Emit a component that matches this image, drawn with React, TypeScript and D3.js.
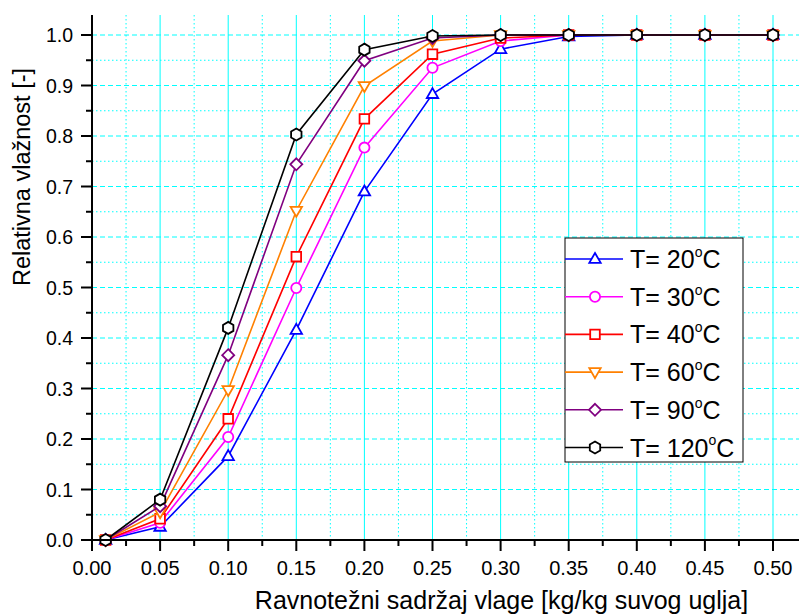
import React, { useEffect } from "react";
import * as d3 from "d3";

const xValues = [0.01, 0.05, 0.1, 0.15, 0.2, 0.25, 0.3, 0.35, 0.4, 0.45, 0.5];
const t20 = [0.0, 0.026, 0.166, 0.416, 0.69, 0.883, 0.972, 0.997, 1.0, 1.0, 1.0];
const t30 = [0.0, 0.034, 0.204, 0.499, 0.777, 0.935, 0.988, 1.0, 1.0, 1.0, 1.0];
const t40 = [0.0, 0.042, 0.24, 0.561, 0.834, 0.962, 0.994, 1.0, 1.0, 1.0, 1.0];
const t60 = [0.0, 0.055, 0.297, 0.652, 0.899, 0.988, 1.0, 1.0, 1.0, 1.0, 1.0];
const t90 = [0.0, 0.067, 0.366, 0.744, 0.949, 0.994, 1.0, 1.0, 1.0, 1.0, 1.0];
const t120 = [0.0, 0.08, 0.42, 0.803, 0.971, 0.998, 1.0, 1.0, 1.0, 1.0, 1.0];
const seriesLabels = ["20", "30", "40", "60", "90", "120"];
const xTicks = [0, 0.05, 0.1, 0.15, 0.2, 0.25, 0.3, 0.35, 0.4, 0.45, 0.5];
const yTicks = [0, 0.1, 0.2, 0.3, 0.4, 0.5, 0.6, 0.7, 0.8, 0.9, 1.0];

const colors = ["#0000ff", "#ff00ff", "#ff0000", "#ff8000", "#800080", "#000000"];
const shapes = ["tri", "circle", "square", "triDown", "diamond", "hex"];
const seriesData = [t20, t30, t40, t60, t90, t120];

function markerPath(shape: string, r: number): string {
  switch (shape) {
    case "tri":
      return `M0,${-r}L${r * 0.95},${r * 0.65}L${-r * 0.95},${r * 0.65}Z`;
    case "triDown":
      return `M0,${r}L${r * 0.95},${-r * 0.65}L${-r * 0.95},${-r * 0.65}Z`;
    case "square":
      return `M${-r * 0.8},${-r * 0.8}H${r * 0.8}V${r * 0.8}H${-r * 0.8}Z`;
    case "diamond":
      return `M0,${-r}L${r},0L0,${r}L${-r},0Z`;
    case "hex": {
      const pts = d3.range(6).map((i) => {
        const a = (Math.PI / 3) * i - Math.PI / 2;
        return [r * Math.cos(a), r * Math.sin(a)];
      });
      return "M" + pts.map((p) => p.join(",")).join("L") + "Z";
    }
    default: {
      return `M${r * 0.85},0A${r * 0.85},${r * 0.85} 0 1,1 ${-r * 0.85},0A${r * 0.85},${r * 0.85} 0 1,1 ${r * 0.85},0Z`;
    }
  }
}

export default function App() {
  useEffect(() => {
    document.body.style.margin = "0";
  }, []);
  const W = 799;
  const H = 615;
  const x = d3.scaleLinear().domain([0, 0.5]).range([92, 773]);
  const y = d3.scaleLinear().domain([0, 1]).range([540, 35]);
  const xMinor = d3.range(0, 0.526, 0.025);
  const yMinor = d3.range(0, 1.04, 0.05);
  const line = d3
    .line<number>()
    .x((_, i) => x(xValues[i]))
    .y((d) => y(d));
  const grid = "#00ffff";
  const font = "'Liberation Sans', Arial, sans-serif";
  const legX = 565;
  const legY = 238;
  const legRowH = 37.7;

  return (
    <svg width={W} height={H} style={{ display: "block", background: "#fff" }} fontFamily={font}>
      {xMinor
        .filter((v) => Math.abs(Math.round(v / 0.05) * 0.05 - v) > 1e-6)
        .map((v, i) => (
          <line key={"xm" + i} x1={x(v)} x2={x(v)} y1={15} y2={540} stroke={grid} strokeWidth={1} strokeDasharray="1.5,2.5" />
        ))}
      {xTicks.slice(1).map((v, i) => (
        <line key={"xg" + i} x1={x(v)} x2={x(v)} y1={15} y2={540} stroke={grid} strokeWidth={1} />
      ))}
      {yMinor
        .filter((v) => Math.abs(Math.round(v / 0.1) * 0.1 - v) > 1e-6)
        .map((v, i) => (
          <line key={"ym" + i} x1={92} x2={W} y1={y(v)} y2={y(v)} stroke={grid} strokeWidth={1} strokeDasharray="1.5,2.5" />
        ))}
      {yTicks.slice(1).map((v, i) => (
        <line key={"yg" + i} x1={92} x2={W} y1={y(v)} y2={y(v)} stroke={grid} strokeWidth={1} strokeDasharray="5,3" />
      ))}

      {seriesData.map((s, si) => (
        <g key={"s" + si}>
          <path d={line(s) || ""} fill="none" stroke={colors[si]} strokeWidth={1.6} />
          {s.map((v, i) => (
            <path
              key={i}
              d={markerPath(shapes[si], 6)}
              transform={`translate(${x(xValues[i])},${y(v)})`}
              fill="#fff"
              stroke={colors[si]}
              strokeWidth={1.8}
            />
          ))}
        </g>
      ))}

      <line x1={92} x2={92} y1={15} y2={541} stroke="#000" strokeWidth={2} />
      <line x1={91} x2={W} y1={540} y2={540} stroke="#000" strokeWidth={2} />
      {yTicks.map((v, i) => (
        <g key={"yt" + i}>
          <line x1={81} x2={92} y1={y(v)} y2={y(v)} stroke="#000" strokeWidth={2} />
          <text x={73} y={y(v)} dy="0.36em" textAnchor="end" fontSize={19.5} fill="#000">
            {v.toFixed(1)}
          </text>
        </g>
      ))}
      {yMinor
        .filter((v) => Math.abs(Math.round(v / 0.1) * 0.1 - v) > 1e-6)
        .map((v, i) => (
          <line key={"ymt" + i} x1={86} x2={92} y1={y(v)} y2={y(v)} stroke="#000" strokeWidth={2} />
        ))}
      {xTicks.map((v, i) => (
        <g key={"xt" + i}>
          <line x1={x(v)} x2={x(v)} y1={540} y2={551} stroke="#000" strokeWidth={2} />
          <text x={x(v)} y={575} textAnchor="middle" fontSize={20} fill="#000">
            {v.toFixed(2)}
          </text>
        </g>
      ))}
      {xMinor
        .filter((v) => Math.abs(Math.round(v / 0.05) * 0.05 - v) > 1e-6)
        .map((v, i) => (
          <line key={"xmt" + i} x1={x(v)} x2={x(v)} y1={540} y2={546} stroke="#000" strokeWidth={2} />
        ))}

      <text transform="translate(30,177) rotate(-90)" textAnchor="middle" fontSize={23.5} fill="#000">
        Relativna vlažnost [-]
      </text>
      <text x={501.5} y={609} textAnchor="middle" fontSize={25} fill="#000">
        Ravnotežni sadržaj vlage [kg/kg suvog uglja]
      </text>

      <rect x={legX} y={legY} width={178} height={224} fill="#fff" stroke="#000" strokeWidth={1} />
      {seriesLabels.map((lab, i) => {
        const cy = legY + 21 + i * legRowH;
        return (
          <g key={"lg" + i}>
            <line x1={legX} x2={legX + 58} y1={cy} y2={cy} stroke={colors[i]} strokeWidth={1.6} />
            <path d={markerPath(shapes[i], 6)} transform={`translate(${legX + 30},${cy})`} fill="#fff" stroke={colors[i]} strokeWidth={1.8} />
            <text x={legX + 65} y={cy} dy="0.36em" fontSize={25} fill="#000">
              {"T= " + lab}
              <tspan fontSize={14} dy="-0.8em">o</tspan>
              <tspan fontSize={25} dy="0.45em">C</tspan>
            </text>
          </g>
        );
      })}
    </svg>
  );
}
